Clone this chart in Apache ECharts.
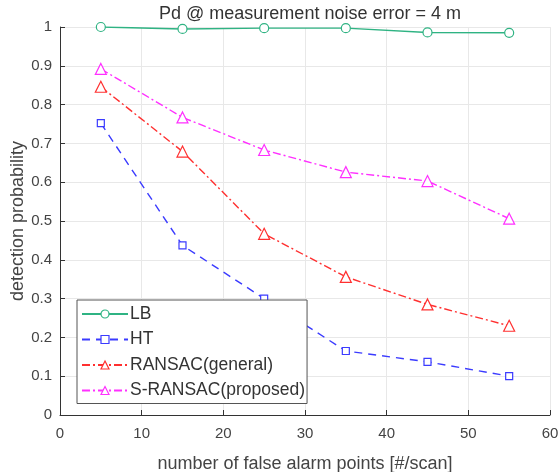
<!DOCTYPE html>
<html>
<head>
<meta charset="utf-8">
<script src="https://cdn.jsdelivr.net/npm/echarts@6/dist/echarts.min.js"></script>
<style>html,body{margin:0;padding:0;background:#fff}#c{width:560px;height:472px}</style>
</head>
<body>
<div id="c"></div>
<script>
const xValues = [5, 15, 25, 35, 45, 55];
const seriesNames = ['LB', 'HT', 'RANSAC(general)', 'S-RANSAC(proposed)'];
const lbValues = [1.0, 0.995, 0.997, 0.997, 0.986, 0.985];
const htValues = [0.752, 0.437, 0.300, 0.165, 0.137, 0.100];
const ransacValues = [0.846, 0.679, 0.467, 0.356, 0.285, 0.230];
const sransacValues = [0.892, 0.767, 0.683, 0.626, 0.603, 0.506];
const xTicks = [0, 10, 20, 30, 40, 50, 60];
const yTicks = [0, 0.1, 0.2, 0.3, 0.4, 0.5, 0.6, 0.7, 0.8, 0.9, 1];

const FONT = 'Liberation Sans, Arial, sans-serif';
const colors = ['#2fb383', '#3b3bff', '#ff3030', '#ff30ff'];
const symbols = ['circle', 'rect', 'triangle', 'triangle'];
const symbolSizes = [9, 7, 11, 11];
const dashTypes = ['solid', [8, 6], [8, 3, 2, 3], [8, 3, 2, 3]];
const allValues = [lbValues, htValues, ransacValues, sransacValues];

const chart = echarts.init(document.getElementById('c'), null, {renderer: 'canvas'});
const series = seriesNames.map((name, i) => ({
  name: name,
  type: 'line',
  data: xValues.map((x, j) => [x, allValues[i][j]]),
  symbol: symbols[i],
  symbolSize: symbolSizes[i],
  showAllSymbol: true,
  lineStyle: {color: colors[i], width: 1.4, type: dashTypes[i]},
  itemStyle: {color: '#fff', borderColor: colors[i], borderWidth: 1.2},
  emphasis: {disabled: true},
  animation: false
}));

chart.setOption({
  animation: false,
  title: {
    text: 'Pd @ measurement noise error = 4 m',
    left: 305, top: 0, textAlign: 'center',
    textStyle: {fontFamily: FONT, fontSize: 18, fontWeight: 'normal', color: '#333'}
  },
  grid: {left: 60, right: 10, top: 27, bottom: 57, containLabel: false, outerBoundsMode: 'none'},
  legend: {
    orient: 'vertical',
    left: 77, top: 300,
    padding: [5, 2, 4, 4],
    itemGap: 7.5,
    itemWidth: 46, itemHeight: 10,
    borderColor: '#555', borderWidth: 1,
    backgroundColor: '#fff',
    textStyle: {fontFamily: FONT, fontSize: 17.5, color: '#333', padding: [0, 0, 0, -3]},
    data: seriesNames.map((n, i) => ({name: n, itemStyle: {color: '#fff', borderColor: colors[i], borderWidth: 1.2}}))
  },
  xAxis: {
    type: 'value', min: 0, max: 60, interval: 10,
    name: 'number of false alarm points [#/scan]',
    nameLocation: 'middle', nameGap: 40, nameMoveOverlap: false,
    nameTextStyle: {fontFamily: FONT, fontSize: 18, color: '#444'},
    axisLine: {show: true, lineStyle: {color: '#333', width: 1}},
    axisTick: {show: true, inside: true, length: 5, lineStyle: {color: '#333'}},
    axisLabel: {fontFamily: FONT, fontSize: 15, color: '#444', margin: 11,
      formatter: v => xTicks.includes(v) ? String(v) : ''},
    splitLine: {show: true, lineStyle: {color: '#e8e8e8', width: 1}}
  },
  yAxis: {
    type: 'value', min: 0, max: 1, interval: 0.1,
    name: 'detection probability',
    nameLocation: 'middle', nameGap: 33, nameMoveOverlap: false,
    nameTextStyle: {fontFamily: FONT, fontSize: 18, color: '#444'},
    axisLine: {show: true, lineStyle: {color: '#333', width: 1}},
    axisTick: {show: true, inside: true, length: 5, lineStyle: {color: '#333'}},
    axisLabel: {fontFamily: FONT, fontSize: 15, color: '#444', margin: 8,
      formatter: v => { const t = yTicks.find(y => Math.abs(y - v) < 1e-9); return t === undefined ? '' : String(t); }},
    splitLine: {show: true, lineStyle: {color: '#e8e8e8', width: 1}}
  },
  series: series
});
</script>
</body>
</html>
